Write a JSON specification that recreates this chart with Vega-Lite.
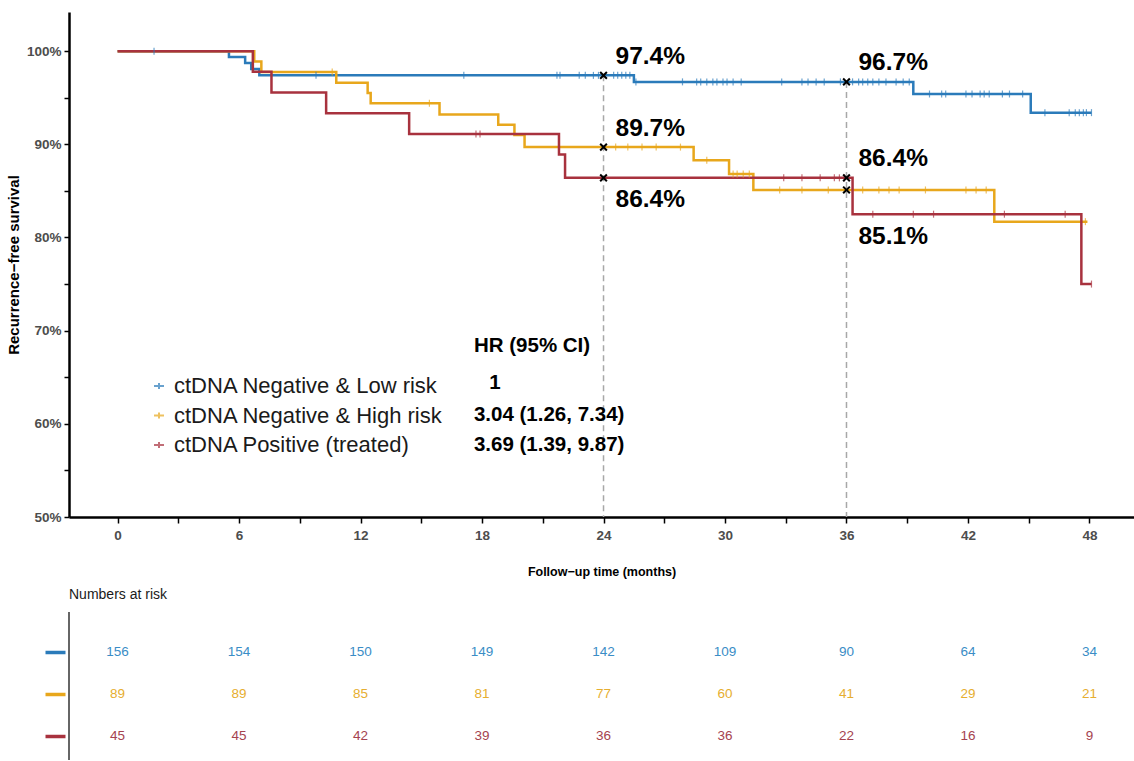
{
  "$schema": "https://vega.github.io/schema/vega-lite/v6.json",
  "background": "white",
  "padding": {"left": 6, "top": 12, "right": 0, "bottom": 0},
  "spacing": 10,
  "config": {
    "view": {"stroke": null},
    "axis": {"grid": false},
    "font": "Liberation Sans, Arial, sans-serif"
  },
  "resolve": {"scale": {"color": "independent", "x": "independent", "y": "independent"}},
  "datasets": {
    "curves": [
      {"group": "ctDNA Negative & Low risk", "t": 0, "s": 100},
      {"group": "ctDNA Negative & Low risk", "t": 5.5, "s": 99.36},
      {"group": "ctDNA Negative & Low risk", "t": 6.3, "s": 98.72},
      {"group": "ctDNA Negative & Low risk", "t": 6.6, "s": 98.08},
      {"group": "ctDNA Negative & Low risk", "t": 7.0, "s": 97.4},
      {"group": "ctDNA Negative & Low risk", "t": 25.5, "s": 96.7},
      {"group": "ctDNA Negative & Low risk", "t": 39.3, "s": 95.4},
      {"group": "ctDNA Negative & Low risk", "t": 45.1, "s": 93.4},
      {"group": "ctDNA Negative & Low risk", "t": 48.1, "s": 93.4},
      {"group": "ctDNA Negative & High risk", "t": 0, "s": 100},
      {"group": "ctDNA Negative & High risk", "t": 6.75, "s": 98.88},
      {"group": "ctDNA Negative & High risk", "t": 7.1, "s": 97.75},
      {"group": "ctDNA Negative & High risk", "t": 10.8, "s": 96.6},
      {"group": "ctDNA Negative & High risk", "t": 12.35, "s": 95.5},
      {"group": "ctDNA Negative & High risk", "t": 12.5, "s": 94.4},
      {"group": "ctDNA Negative & High risk", "t": 15.9, "s": 93.2},
      {"group": "ctDNA Negative & High risk", "t": 18.8, "s": 92.1},
      {"group": "ctDNA Negative & High risk", "t": 19.6, "s": 91.0},
      {"group": "ctDNA Negative & High risk", "t": 20.1, "s": 89.7},
      {"group": "ctDNA Negative & High risk", "t": 28.45, "s": 88.3},
      {"group": "ctDNA Negative & High risk", "t": 30.2, "s": 86.8},
      {"group": "ctDNA Negative & High risk", "t": 31.4, "s": 85.1},
      {"group": "ctDNA Negative & High risk", "t": 43.3, "s": 81.7},
      {"group": "ctDNA Negative & High risk", "t": 47.9, "s": 81.7},
      {"group": "ctDNA Positive (treated)", "t": 0, "s": 100},
      {"group": "ctDNA Positive (treated)", "t": 6.68, "s": 97.78},
      {"group": "ctDNA Positive (treated)", "t": 7.6, "s": 95.56},
      {"group": "ctDNA Positive (treated)", "t": 10.3, "s": 93.33},
      {"group": "ctDNA Positive (treated)", "t": 14.4, "s": 91.1},
      {"group": "ctDNA Positive (treated)", "t": 21.8, "s": 88.9},
      {"group": "ctDNA Positive (treated)", "t": 22.1, "s": 86.4},
      {"group": "ctDNA Positive (treated)", "t": 36.3, "s": 82.5},
      {"group": "ctDNA Positive (treated)", "t": 47.6, "s": 75.0},
      {"group": "ctDNA Positive (treated)", "t": 48.1, "s": 75.0}
    ],
    "censor": [
      {"group": "ctDNA Negative & Low risk", "t": 1.8, "s": 100},
      {"group": "ctDNA Negative & Low risk", "t": 9.8, "s": 97.4},
      {"group": "ctDNA Negative & Low risk", "t": 17.1, "s": 97.4},
      {"group": "ctDNA Negative & Low risk", "t": 21.7, "s": 97.4},
      {"group": "ctDNA Negative & Low risk", "t": 21.85, "s": 97.4},
      {"group": "ctDNA Negative & Low risk", "t": 22.8, "s": 97.4},
      {"group": "ctDNA Negative & Low risk", "t": 23.1, "s": 97.4},
      {"group": "ctDNA Negative & Low risk", "t": 23.5, "s": 97.4},
      {"group": "ctDNA Negative & Low risk", "t": 23.75, "s": 97.4},
      {"group": "ctDNA Negative & Low risk", "t": 24.5, "s": 97.4},
      {"group": "ctDNA Negative & Low risk", "t": 24.7, "s": 97.4},
      {"group": "ctDNA Negative & Low risk", "t": 24.9, "s": 97.4},
      {"group": "ctDNA Negative & Low risk", "t": 25.1, "s": 97.4},
      {"group": "ctDNA Negative & Low risk", "t": 25.3, "s": 97.4},
      {"group": "ctDNA Negative & Low risk", "t": 25.6, "s": 96.7},
      {"group": "ctDNA Negative & Low risk", "t": 27.9, "s": 96.7},
      {"group": "ctDNA Negative & Low risk", "t": 28.6, "s": 96.7},
      {"group": "ctDNA Negative & Low risk", "t": 28.8, "s": 96.7},
      {"group": "ctDNA Negative & Low risk", "t": 29.1, "s": 96.7},
      {"group": "ctDNA Negative & Low risk", "t": 29.4, "s": 96.7},
      {"group": "ctDNA Negative & Low risk", "t": 29.6, "s": 96.7},
      {"group": "ctDNA Negative & Low risk", "t": 29.9, "s": 96.7},
      {"group": "ctDNA Negative & Low risk", "t": 30.1, "s": 96.7},
      {"group": "ctDNA Negative & Low risk", "t": 30.4, "s": 96.7},
      {"group": "ctDNA Negative & Low risk", "t": 30.8, "s": 96.7},
      {"group": "ctDNA Negative & Low risk", "t": 32.8, "s": 96.7},
      {"group": "ctDNA Negative & Low risk", "t": 33.8, "s": 96.7},
      {"group": "ctDNA Negative & Low risk", "t": 34.1, "s": 96.7},
      {"group": "ctDNA Negative & Low risk", "t": 34.5, "s": 96.7},
      {"group": "ctDNA Negative & Low risk", "t": 34.9, "s": 96.7},
      {"group": "ctDNA Negative & Low risk", "t": 35.7, "s": 96.7},
      {"group": "ctDNA Negative & Low risk", "t": 36.3, "s": 96.7},
      {"group": "ctDNA Negative & Low risk", "t": 36.6, "s": 96.7},
      {"group": "ctDNA Negative & Low risk", "t": 36.8, "s": 96.7},
      {"group": "ctDNA Negative & Low risk", "t": 37.05, "s": 96.7},
      {"group": "ctDNA Negative & Low risk", "t": 37.3, "s": 96.7},
      {"group": "ctDNA Negative & Low risk", "t": 37.6, "s": 96.7},
      {"group": "ctDNA Negative & Low risk", "t": 37.95, "s": 96.7},
      {"group": "ctDNA Negative & Low risk", "t": 38.45, "s": 96.7},
      {"group": "ctDNA Negative & Low risk", "t": 38.8, "s": 96.7},
      {"group": "ctDNA Negative & Low risk", "t": 39.1, "s": 96.7},
      {"group": "ctDNA Negative & Low risk", "t": 40.1, "s": 95.4},
      {"group": "ctDNA Negative & Low risk", "t": 40.7, "s": 95.4},
      {"group": "ctDNA Negative & Low risk", "t": 40.9, "s": 95.4},
      {"group": "ctDNA Negative & Low risk", "t": 41.9, "s": 95.4},
      {"group": "ctDNA Negative & Low risk", "t": 42.2, "s": 95.4},
      {"group": "ctDNA Negative & Low risk", "t": 42.6, "s": 95.4},
      {"group": "ctDNA Negative & Low risk", "t": 42.8, "s": 95.4},
      {"group": "ctDNA Negative & Low risk", "t": 43.05, "s": 95.4},
      {"group": "ctDNA Negative & Low risk", "t": 43.7, "s": 95.4},
      {"group": "ctDNA Negative & Low risk", "t": 44.05, "s": 95.4},
      {"group": "ctDNA Negative & Low risk", "t": 44.7, "s": 95.4},
      {"group": "ctDNA Negative & Low risk", "t": 45.8, "s": 93.4},
      {"group": "ctDNA Negative & Low risk", "t": 47.0, "s": 93.4},
      {"group": "ctDNA Negative & Low risk", "t": 47.3, "s": 93.4},
      {"group": "ctDNA Negative & Low risk", "t": 47.5, "s": 93.4},
      {"group": "ctDNA Negative & Low risk", "t": 47.7, "s": 93.4},
      {"group": "ctDNA Negative & Low risk", "t": 47.85, "s": 93.4},
      {"group": "ctDNA Negative & Low risk", "t": 48.1, "s": 93.4},
      {"group": "ctDNA Negative & High risk", "t": 10.6, "s": 97.75},
      {"group": "ctDNA Negative & High risk", "t": 15.4, "s": 94.4},
      {"group": "ctDNA Negative & High risk", "t": 24.6, "s": 89.7},
      {"group": "ctDNA Negative & High risk", "t": 25.2, "s": 89.7},
      {"group": "ctDNA Negative & High risk", "t": 25.9, "s": 89.7},
      {"group": "ctDNA Negative & High risk", "t": 26.6, "s": 89.7},
      {"group": "ctDNA Negative & High risk", "t": 27.8, "s": 89.7},
      {"group": "ctDNA Negative & High risk", "t": 29.1, "s": 88.3},
      {"group": "ctDNA Negative & High risk", "t": 30.4, "s": 86.8},
      {"group": "ctDNA Negative & High risk", "t": 30.6, "s": 86.8},
      {"group": "ctDNA Negative & High risk", "t": 30.9, "s": 86.8},
      {"group": "ctDNA Negative & High risk", "t": 31.2, "s": 86.8},
      {"group": "ctDNA Negative & High risk", "t": 32.7, "s": 85.1},
      {"group": "ctDNA Negative & High risk", "t": 33.8, "s": 85.1},
      {"group": "ctDNA Negative & High risk", "t": 35.1, "s": 85.1},
      {"group": "ctDNA Negative & High risk", "t": 36.8, "s": 85.1},
      {"group": "ctDNA Negative & High risk", "t": 37.6, "s": 85.1},
      {"group": "ctDNA Negative & High risk", "t": 38.1, "s": 85.1},
      {"group": "ctDNA Negative & High risk", "t": 38.6, "s": 85.1},
      {"group": "ctDNA Negative & High risk", "t": 39.9, "s": 85.1},
      {"group": "ctDNA Negative & High risk", "t": 41.9, "s": 85.1},
      {"group": "ctDNA Negative & High risk", "t": 42.4, "s": 85.1},
      {"group": "ctDNA Negative & High risk", "t": 42.9, "s": 85.1},
      {"group": "ctDNA Negative & High risk", "t": 47.8, "s": 81.7},
      {"group": "ctDNA Positive (treated)", "t": 17.7, "s": 91.1},
      {"group": "ctDNA Positive (treated)", "t": 17.9, "s": 91.1},
      {"group": "ctDNA Positive (treated)", "t": 32.9, "s": 86.4},
      {"group": "ctDNA Positive (treated)", "t": 33.8, "s": 86.4},
      {"group": "ctDNA Positive (treated)", "t": 34.7, "s": 86.4},
      {"group": "ctDNA Positive (treated)", "t": 35.4, "s": 86.4},
      {"group": "ctDNA Positive (treated)", "t": 35.65, "s": 86.4},
      {"group": "ctDNA Positive (treated)", "t": 35.9, "s": 86.4},
      {"group": "ctDNA Positive (treated)", "t": 37.3, "s": 82.5},
      {"group": "ctDNA Positive (treated)", "t": 39.3, "s": 82.5},
      {"group": "ctDNA Positive (treated)", "t": 40.3, "s": 82.5},
      {"group": "ctDNA Positive (treated)", "t": 43.8, "s": 82.5},
      {"group": "ctDNA Positive (treated)", "t": 46.8, "s": 82.5},
      {"group": "ctDNA Positive (treated)", "t": 48.1, "s": 75.0}
    ],
    "landmarks": [
      {"group": "ctDNA Negative & Low risk", "t": 24, "s": 97.4, "label": "97.4%"},
      {"group": "ctDNA Negative & High risk", "t": 24, "s": 89.7, "label": "89.7%"},
      {"group": "ctDNA Positive (treated)", "t": 24, "s": 86.4, "label": "86.4%"},
      {"group": "ctDNA Negative & Low risk", "t": 36, "s": 96.7, "label": "96.7%"},
      {"group": "ctDNA Positive (treated)", "t": 36, "s": 86.4, "label": "86.4%"},
      {"group": "ctDNA Negative & High risk", "t": 36, "s": 85.1, "label": "85.1%"}
    ],
    "hr": [
      {"text": "HR (95% CI)", "t": 17.6, "s": 68.3},
      {"text": "1", "t": 18.35, "s": 64.35},
      {"text": "3.04 (1.26, 7.34)", "t": 17.6, "s": 60.9},
      {"text": "3.69 (1.39, 9.87)", "t": 17.6, "s": 57.7}
    ],
    "risk": [
      {"group": "ctDNA Negative & Low risk", "t": 0, "n": 156},
      {"group": "ctDNA Negative & Low risk", "t": 6, "n": 154},
      {"group": "ctDNA Negative & Low risk", "t": 12, "n": 150},
      {"group": "ctDNA Negative & Low risk", "t": 18, "n": 149},
      {"group": "ctDNA Negative & Low risk", "t": 24, "n": 142},
      {"group": "ctDNA Negative & Low risk", "t": 30, "n": 109},
      {"group": "ctDNA Negative & Low risk", "t": 36, "n": 90},
      {"group": "ctDNA Negative & Low risk", "t": 42, "n": 64},
      {"group": "ctDNA Negative & Low risk", "t": 48, "n": 34},
      {"group": "ctDNA Negative & High risk", "t": 0, "n": 89},
      {"group": "ctDNA Negative & High risk", "t": 6, "n": 89},
      {"group": "ctDNA Negative & High risk", "t": 12, "n": 85},
      {"group": "ctDNA Negative & High risk", "t": 18, "n": 81},
      {"group": "ctDNA Negative & High risk", "t": 24, "n": 77},
      {"group": "ctDNA Negative & High risk", "t": 30, "n": 60},
      {"group": "ctDNA Negative & High risk", "t": 36, "n": 41},
      {"group": "ctDNA Negative & High risk", "t": 42, "n": 29},
      {"group": "ctDNA Negative & High risk", "t": 48, "n": 21},
      {"group": "ctDNA Positive (treated)", "t": 0, "n": 45},
      {"group": "ctDNA Positive (treated)", "t": 6, "n": 45},
      {"group": "ctDNA Positive (treated)", "t": 12, "n": 42},
      {"group": "ctDNA Positive (treated)", "t": 18, "n": 39},
      {"group": "ctDNA Positive (treated)", "t": 24, "n": 36},
      {"group": "ctDNA Positive (treated)", "t": 30, "n": 36},
      {"group": "ctDNA Positive (treated)", "t": 36, "n": 22},
      {"group": "ctDNA Positive (treated)", "t": 42, "n": 16},
      {"group": "ctDNA Positive (treated)", "t": 48, "n": 9}
    ]
  },
  "vconcat": [
    {
      "width": 1065,
      "height": 505,
      "layer": [
        {
          "data": {"name": "landmarks"},
          "transform": [{"filter": "datum.group === 'ctDNA Negative & Low risk'"}],
          "mark": {"type": "rule", "color": "#a8a8a8", "strokeDash": [6, 4], "strokeWidth": 1.5},
          "encoding": {
            "x": {
              "field": "t", "type": "quantitative",
              "scale": {"domain": [-2.4, 50.2], "nice": false, "zero": false},
              "axis": {
                "title": "Follow\u2212up time (months)",
                "values": [0, 3, 6, 9, 12, 15, 18, 21, 24, 27, 30, 33, 36, 39, 42, 45, 48],
                "labelExpr": "datum.value % 6 === 0 ? datum.label : ''",
                "domainColor": "#000000", "domainWidth": 2.5,
                "tickColor": "#000000", "tickWidth": 1.5, "tickSize": 6,
                "labelFontSize": 13.5, "labelFontWeight": "bold", "labelColor": "#4d4d4d",
                "labelPadding": 5,
                "titleFontSize": 12.5, "titleFontWeight": "bold", "titleColor": "#000000",
                "titlePadding": 24
              }
            },
            "y": {
              "field": "s", "type": "quantitative",
              "scale": {"domain": [50, 104.2], "nice": false, "zero": false},
              "axis": {
                "title": "Recurrence\u2212free survival",
                "values": [50, 55, 60, 65, 70, 75, 80, 85, 90, 95, 100],
                "labelExpr": "datum.value % 10 === 0 ? datum.value + '%' : ''",
                "domainColor": "#000000", "domainWidth": 2.5,
                "tickColor": "#000000", "tickWidth": 1.5, "tickSize": 5,
                "labelFontSize": 13.5, "labelFontWeight": "bold", "labelColor": "#4d4d4d",
                "labelPadding": 3,
                "titleFontSize": 15, "titleFontWeight": "bold", "titleColor": "#000000",
                "titlePadding": 5
              }
            },
            "y2": {"datum": 50}
          }
        },
        {
          "data": {"name": "curves"},
          "mark": {"type": "line", "interpolate": "step-after", "strokeWidth": 2.5},
          "encoding": {
            "x": {"field": "t", "type": "quantitative"},
            "y": {"field": "s", "type": "quantitative"},
            "color": {
              "field": "group", "type": "nominal",
              "scale": {
                "domain": ["ctDNA Negative & Low risk", "ctDNA Negative & High risk", "ctDNA Positive (treated)"],
                "range": ["#2b7bba", "#e8a71c", "#a8323e"]
              },
              "legend": {
                "orient": "none", "legendX": 79, "legendY": 363,
                "title": null,
                "symbolType": "M-1,0L1,0M0,-0.6L0,0.6",
                "symbolSize": 100, "symbolStrokeWidth": 2,
                "labelFontSize": 22, "labelColor": "#1a1a1a",
                "labelOffset": 4, "rowPadding": 7.5, "labelLimit": 500
              }
            }
          }
        },
        {
          "data": {"name": "censor"},
          "mark": {"type": "tick", "orient": "vertical", "size": 7, "thickness": 1.2},
          "encoding": {
            "x": {"field": "t", "type": "quantitative"},
            "y": {"field": "s", "type": "quantitative"},
            "color": {"field": "group", "type": "nominal"}
          }
        },
        {
          "data": {"name": "landmarks"},
          "mark": {"type": "point", "shape": "M-1,-1L1,1M-1,1L1,-1", "filled": false, "size": 45, "strokeWidth": 2, "color": "#000000", "opacity": 1},
          "encoding": {
            "x": {"field": "t", "type": "quantitative"},
            "y": {"field": "s", "type": "quantitative"}
          }
        },
        {
          "data": {"name": "landmarks"},
          "transform": [{"filter": "!(datum.group === 'ctDNA Positive (treated)' && datum.t === 24) && !(datum.group === 'ctDNA Negative & High risk' && datum.t === 36)"}],
          "mark": {"type": "text", "align": "left", "baseline": "middle", "fontSize": 24.5, "fontWeight": "bold", "color": "#000000", "dx": 12, "dy": -18.5},
          "encoding": {
            "x": {"field": "t", "type": "quantitative"},
            "y": {"field": "s", "type": "quantitative"},
            "text": {"field": "label"}
          }
        },
        {
          "data": {"name": "landmarks"},
          "transform": [{"filter": "datum.group === 'ctDNA Positive (treated)' && datum.t === 24"}],
          "mark": {"type": "text", "align": "left", "baseline": "middle", "fontSize": 24.5, "fontWeight": "bold", "color": "#000000", "dx": 12, "dy": 22},
          "encoding": {
            "x": {"field": "t", "type": "quantitative"},
            "y": {"field": "s", "type": "quantitative"},
            "text": {"field": "label"}
          }
        },
        {
          "data": {"name": "landmarks"},
          "transform": [{"filter": "datum.group === 'ctDNA Negative & High risk' && datum.t === 36"}],
          "mark": {"type": "text", "align": "left", "baseline": "middle", "fontSize": 24.5, "fontWeight": "bold", "color": "#000000", "dx": 12, "dy": 47},
          "encoding": {
            "x": {"field": "t", "type": "quantitative"},
            "y": {"field": "s", "type": "quantitative"},
            "text": {"field": "label"}
          }
        },
        {
          "data": {"name": "hr"},
          "mark": {"type": "text", "align": "left", "baseline": "middle", "fontSize": 20.5, "fontWeight": "bold", "color": "#000000"},
          "encoding": {
            "x": {"field": "t", "type": "quantitative"},
            "y": {"field": "s", "type": "quantitative"},
            "text": {"field": "text"}
          }
        }
      ]
    },
    {
      "width": 1065,
      "height": 148,
      "title": {"text": "Numbers at risk", "anchor": "start", "frame": "group", "fontSize": 14, "fontWeight": "normal", "color": "#1a1a1a", "offset": 9},
      "layer": [
        {
          "data": {"values": [{}]},
          "mark": {"type": "rule", "color": "#333333", "strokeWidth": 1.5},
          "encoding": {
            "x": {"datum": -2.4, "type": "quantitative", "scale": {"domain": [-2.4, 50.2], "nice": false, "zero": false}, "axis": null}
          }
        },
        {
          "data": {"name": "risk"},
          "mark": {"type": "text", "fontSize": 13.5, "baseline": "middle"},
          "encoding": {
            "x": {"field": "t", "type": "quantitative", "axis": null},
            "y": {
              "field": "group", "type": "nominal",
              "scale": {"type": "point", "padding": 0, "domain": ["ctDNA Negative & Low risk", "ctDNA Negative & High risk", "ctDNA Positive (treated)"], "range": [40, 124]},
              "axis": {
                "title": null, "labels": false, "domain": false, "grid": false,
                "tickSize": 20, "tickWidth": 3.5, "offset": 4,
                "tickColor": {
                  "condition": [
                    {"test": "datum.value === 'ctDNA Negative & Low risk'", "value": "#2b7bba"},
                    {"test": "datum.value === 'ctDNA Negative & High risk'", "value": "#e8a71c"}
                  ],
                  "value": "#a8323e"
                }
              }
            },
            "text": {"field": "n"},
            "color": {
              "field": "group", "type": "nominal",
              "scale": {
                "domain": ["ctDNA Negative & Low risk", "ctDNA Negative & High risk", "ctDNA Positive (treated)"],
                "range": ["#3a8dc6", "#e6ae30", "#a5434f"]
              },
              "legend": null
            }
          }
        }
      ]
    }
  ]
}
